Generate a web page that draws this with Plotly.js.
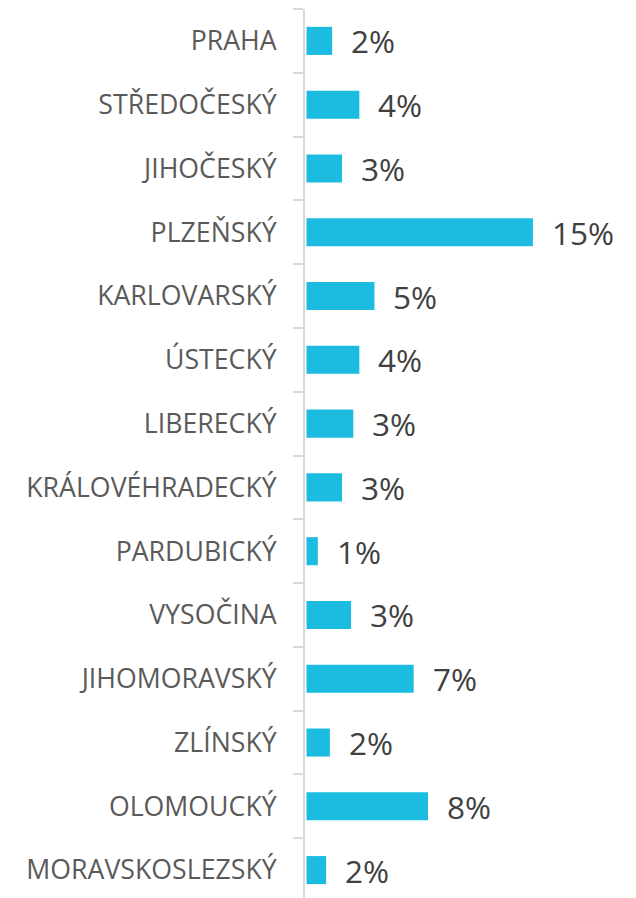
<!DOCTYPE html>
<html>
<head>
<meta charset="utf-8">
<script src="https://cdn.plot.ly/plotly-3.0.1.min.js"></script>
<style>
html,body{margin:0;padding:0;overflow:hidden;background:#fff;}
#chart{width:636px;height:902px;}
</style>
</head>
<body>
<div id="chart"></div>
<script>
const categories = ["PRAHA","STŘEDOČESKÝ","JIHOČESKÝ","PLZEŇSKÝ","KARLOVARSKÝ","ÚSTECKÝ","LIBERECKÝ","KRÁLOVÉHRADECKÝ","PARDUBICKÝ","VYSOČINA","JIHOMORAVSKÝ","ZLÍNSKÝ","OLOMOUCKÝ","MORAVSKOSLEZSKÝ"];
const values = [1.7, 3.5, 2.35, 15.0, 4.5, 3.5, 3.1, 2.35, 0.75, 2.95, 7.1, 1.55, 8.05, 1.3];
const valueLabels = ["2%","4%","3%","15%","5%","4%","3%","3%","1%","3%","7%","2%","8%","2%"];

const trace = {
  type: "bar",
  orientation: "h",
  y: categories,
  x: values,
  marker: {color: "#1bbce0"},
  hoverinfo: "none"
};

const annotations = categories.map((c, i) => ({
  x: values[i], y: c, xref: "x", yref: "y",
  text: valueLabels[i], showarrow: false,
  xanchor: "left", yanchor: "middle", xshift: 17,
  font: {family: "Open Sans", size: 31.5, color: "#404040"}
}));

const layout = {
  width: 636, height: 902,
  margin: {l: 305, r: 0, t: 9, b: 0, pad: 0},
  paper_bgcolor: "#fff", plot_bgcolor: "#fff",
  showlegend: false,
  bargap: 0.56,
  font: {family: "Open Sans"},
  xaxis: {range: [-0.1, 21.83], visible: false, fixedrange: true},
  yaxis: {
    type: "category", autorange: "reversed",
    showline: true, linecolor: "#d9d9d9", linewidth: 2,
    ticks: "outside", tickson: "boundaries", ticklen: 10, tickwidth: 2, tickcolor: "#d9d9d9",
    ticklabelstandoff: 21,
    tickfont: {family: "Open Sans", size: 26.7, color: "#5a5a5a"},
    showgrid: false, zeroline: false, fixedrange: true
  },
  annotations: annotations
};

Plotly.newPlot("chart", [trace], layout, {displayModeBar: false, staticPlot: true});
</script>
</body>
</html>
